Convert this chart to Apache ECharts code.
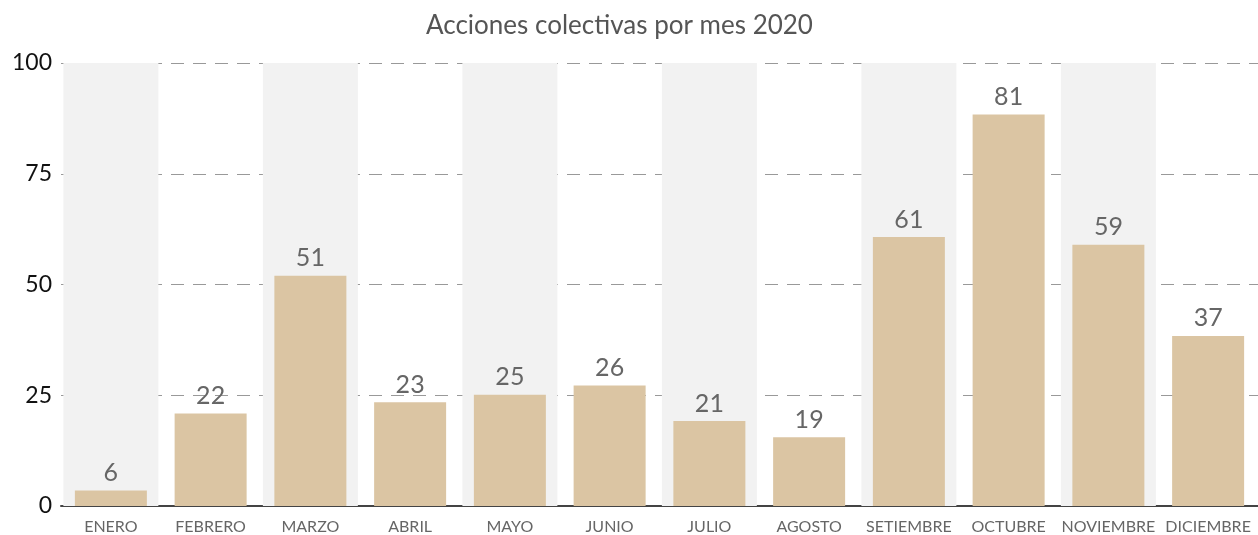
<!DOCTYPE html>
<html>
<head>
<meta charset="utf-8">
<script src="https://cdn.jsdelivr.net/npm/echarts@6/dist/echarts.min.js"></script>
<style>
    html, body { margin: 0; padding: 0; background: #fff; }
    #chart { width: 1258px; height: 535px; }
</style>
</head>
<body>
<div id="chart"></div>
<script>
var months = ['ENERO', 'FEBRERO', 'MARZO', 'ABRIL', 'MAYO', 'JUNIO', 'JULIO', 'AGOSTO', 'SETIEMBRE', 'OCTUBRE', 'NOVIEMBRE', 'DICIEMBRE'];
// printed values above each bar
var printed = [6, 22, 51, 23, 25, 26, 21, 19, 61, 81, 59, 37];
// bar heights as drawn in the picture (they do not always match the printed value)
var heights = [3.5, 20.9, 52, 23.4, 25.1, 27.2, 19.2, 15.5, 60.7, 88.4, 59, 38.4];
var yTicks = [0, 25, 50, 75, 100];

// shaded band behind every other month
var bands = months.map(function (m, i) { return i % 2 === 0 ? 100 : '-'; });

var myChart = echarts.init(document.getElementById('chart'));
var option = {
    animation: false,
    title: {
        text: 'Acciones colectivas por mes 2020',
        left: 421,
        top: 8,
        textStyle: {
            color: '#555',
            fontSize: 26,
            fontWeight: 400,
            fontFamily: 'Lato'
        }
    },
    grid: {
        left: 61,
        top: 63,
        width: 1200,
        bottom: 28
    },
    xAxis: [
        {
            type: 'category',
            data: months,
            axisLine: {
                lineStyle: { color: '#444', width: 2 }
            },
            axisTick: {
                length: 16,
                lineStyle: { color: '#bbb', type: [2, 3] }
            },
            axisLabel: {
                color: '#666',
                fontSize: 16,
                fontFamily: 'Lato',
                margin: 13,
                interval: 0
            }
        },
        {
            type: 'category',
            data: months,
            show: false
        }
    ],
    yAxis: {
        type: 'value',
        min: yTicks[0],
        max: yTicks[yTicks.length - 1],
        interval: 25,
        axisLine: { show: false },
        axisTick: { show: false },
        axisLabel: {
            color: '#111',
            fontSize: 23,
            fontFamily: 'Lato',
            margin: 9
        },
        splitLine: {
            lineStyle: { color: '#999', type: [13, 9] }
        }
    },
    series: [
        {
            type: 'bar',
            xAxisIndex: 1,
            data: bands,
            barWidth: 95,
            silent: true,
            z: 0,
            itemStyle: { color: '#f2f2f2' }
        },
        {
            type: 'bar',
            data: heights,
            barWidth: 72,
            z: 3,
            itemStyle: { color: '#dbc5a3' },
            label: {
                show: true,
                position: 'top',
                distance: 5,
                color: '#666',
                fontSize: 25,
                fontFamily: 'Lato',
                formatter: function (p) { return printed[p.dataIndex]; }
            }
        }
    ]
};
myChart.setOption(option);
</script>
</body>
</html>
